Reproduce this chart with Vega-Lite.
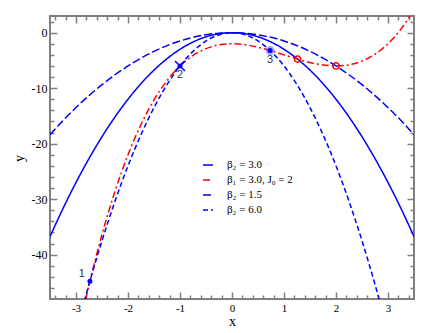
{
  "$schema": "https://vega.github.io/schema/vega-lite/v6.json",
  "width": 364,
  "height": 283,
  "autosize": "none",
  "padding": {"left": 50, "top": 16, "right": 17, "bottom": 34},
  "config": {"view": {"stroke": "#808080", "strokeWidth": 2}, "font": "Liberation Serif"},
  "datasets": {
    "curves": [
      {"s":"β₂ = 3.0","x":-3.5,"y":-36.75},{"s":"β₂ = 3.0","x":-3.25,"y":-31.69},{"s":"β₂ = 3.0","x":-3,"y":-27},{"s":"β₂ = 3.0","x":-2.75,"y":-22.69},{"s":"β₂ = 3.0","x":-2.5,"y":-18.75},{"s":"β₂ = 3.0","x":-2.25,"y":-15.19},{"s":"β₂ = 3.0","x":-2,"y":-12},{"s":"β₂ = 3.0","x":-1.75,"y":-9.19},{"s":"β₂ = 3.0","x":-1.5,"y":-6.75},{"s":"β₂ = 3.0","x":-1.25,"y":-4.69},{"s":"β₂ = 3.0","x":-1,"y":-3},{"s":"β₂ = 3.0","x":-0.75,"y":-1.69},{"s":"β₂ = 3.0","x":-0.5,"y":-0.75},{"s":"β₂ = 3.0","x":-0.25,"y":-0.19},{"s":"β₂ = 3.0","x":0,"y":0},{"s":"β₂ = 3.0","x":0.25,"y":-0.19},{"s":"β₂ = 3.0","x":0.5,"y":-0.75},{"s":"β₂ = 3.0","x":0.75,"y":-1.69},{"s":"β₂ = 3.0","x":1,"y":-3},{"s":"β₂ = 3.0","x":1.25,"y":-4.69},{"s":"β₂ = 3.0","x":1.5,"y":-6.75},{"s":"β₂ = 3.0","x":1.75,"y":-9.19},{"s":"β₂ = 3.0","x":2,"y":-12},{"s":"β₂ = 3.0","x":2.25,"y":-15.19},{"s":"β₂ = 3.0","x":2.5,"y":-18.75},{"s":"β₂ = 3.0","x":2.75,"y":-22.69},{"s":"β₂ = 3.0","x":3,"y":-27},{"s":"β₂ = 3.0","x":3.25,"y":-31.69},{"s":"β₂ = 3.0","x":3.5,"y":-36.75},
      {"s":"β₁ = 3.0, J₀ =  2","x":-3,"y":-56},{"s":"β₁ = 3.0, J₀ =  2","x":-2.75,"y":-45.48},{"s":"β₁ = 3.0, J₀ =  2","x":-2.5,"y":-36.38},{"s":"β₁ = 3.0, J₀ =  2","x":-2.25,"y":-28.58},{"s":"β₁ = 3.0, J₀ =  2","x":-2,"y":-22},{"s":"β₁ = 3.0, J₀ =  2","x":-1.75,"y":-16.55},{"s":"β₁ = 3.0, J₀ =  2","x":-1.5,"y":-12.13},{"s":"β₁ = 3.0, J₀ =  2","x":-1.25,"y":-8.64},{"s":"β₁ = 3.0, J₀ =  2","x":-1,"y":-6},{"s":"β₁ = 3.0, J₀ =  2","x":-0.75,"y":-4.11},{"s":"β₁ = 3.0, J₀ =  2","x":-0.5,"y":-2.88},{"s":"β₁ = 3.0, J₀ =  2","x":-0.25,"y":-2.2},{"s":"β₁ = 3.0, J₀ =  2","x":0,"y":-2},{"s":"β₁ = 3.0, J₀ =  2","x":0.25,"y":-2.17},{"s":"β₁ = 3.0, J₀ =  2","x":0.5,"y":-2.63},{"s":"β₁ = 3.0, J₀ =  2","x":0.75,"y":-3.27},{"s":"β₁ = 3.0, J₀ =  2","x":1,"y":-4},{"s":"β₁ = 3.0, J₀ =  2","x":1.25,"y":-4.73},{"s":"β₁ = 3.0, J₀ =  2","x":1.5,"y":-5.38},{"s":"β₁ = 3.0, J₀ =  2","x":1.75,"y":-5.83},{"s":"β₁ = 3.0, J₀ =  2","x":2,"y":-6},{"s":"β₁ = 3.0, J₀ =  2","x":2.25,"y":-5.8},{"s":"β₁ = 3.0, J₀ =  2","x":2.5,"y":-5.13},{"s":"β₁ = 3.0, J₀ =  2","x":2.75,"y":-3.89},{"s":"β₁ = 3.0, J₀ =  2","x":3,"y":-2},{"s":"β₁ = 3.0, J₀ =  2","x":3.25,"y":0.64},{"s":"β₁ = 3.0, J₀ =  2","x":3.5,"y":4.13},
      {"s":"β₂ = 1.5","x":-3.5,"y":-18.38},{"s":"β₂ = 1.5","x":-3.25,"y":-15.84},{"s":"β₂ = 1.5","x":-3,"y":-13.5},{"s":"β₂ = 1.5","x":-2.75,"y":-11.34},{"s":"β₂ = 1.5","x":-2.5,"y":-9.38},{"s":"β₂ = 1.5","x":-2.25,"y":-7.59},{"s":"β₂ = 1.5","x":-2,"y":-6},{"s":"β₂ = 1.5","x":-1.75,"y":-4.59},{"s":"β₂ = 1.5","x":-1.5,"y":-3.38},{"s":"β₂ = 1.5","x":-1.25,"y":-2.34},{"s":"β₂ = 1.5","x":-1,"y":-1.5},{"s":"β₂ = 1.5","x":-0.75,"y":-0.84},{"s":"β₂ = 1.5","x":-0.5,"y":-0.38},{"s":"β₂ = 1.5","x":-0.25,"y":-0.09},{"s":"β₂ = 1.5","x":0,"y":0},{"s":"β₂ = 1.5","x":0.25,"y":-0.09},{"s":"β₂ = 1.5","x":0.5,"y":-0.38},{"s":"β₂ = 1.5","x":0.75,"y":-0.84},{"s":"β₂ = 1.5","x":1,"y":-1.5},{"s":"β₂ = 1.5","x":1.25,"y":-2.34},{"s":"β₂ = 1.5","x":1.5,"y":-3.38},{"s":"β₂ = 1.5","x":1.75,"y":-4.59},{"s":"β₂ = 1.5","x":2,"y":-6},{"s":"β₂ = 1.5","x":2.25,"y":-7.59},{"s":"β₂ = 1.5","x":2.5,"y":-9.38},{"s":"β₂ = 1.5","x":2.75,"y":-11.34},{"s":"β₂ = 1.5","x":3,"y":-13.5},{"s":"β₂ = 1.5","x":3.25,"y":-15.84},{"s":"β₂ = 1.5","x":3.5,"y":-18.38},
      {"s":"β₂ = 6.0","x":-3,"y":-54},{"s":"β₂ = 6.0","x":-2.75,"y":-45.38},{"s":"β₂ = 6.0","x":-2.5,"y":-37.5},{"s":"β₂ = 6.0","x":-2.25,"y":-30.38},{"s":"β₂ = 6.0","x":-2,"y":-24},{"s":"β₂ = 6.0","x":-1.75,"y":-18.38},{"s":"β₂ = 6.0","x":-1.5,"y":-13.5},{"s":"β₂ = 6.0","x":-1.25,"y":-9.38},{"s":"β₂ = 6.0","x":-1,"y":-6},{"s":"β₂ = 6.0","x":-0.75,"y":-3.38},{"s":"β₂ = 6.0","x":-0.5,"y":-1.5},{"s":"β₂ = 6.0","x":-0.25,"y":-0.38},{"s":"β₂ = 6.0","x":0,"y":0},{"s":"β₂ = 6.0","x":0.25,"y":-0.38},{"s":"β₂ = 6.0","x":0.5,"y":-1.5},{"s":"β₂ = 6.0","x":0.75,"y":-3.38},{"s":"β₂ = 6.0","x":1,"y":-6},{"s":"β₂ = 6.0","x":1.25,"y":-9.38},{"s":"β₂ = 6.0","x":1.5,"y":-13.5},{"s":"β₂ = 6.0","x":1.75,"y":-18.38},{"s":"β₂ = 6.0","x":2,"y":-24},{"s":"β₂ = 6.0","x":2.25,"y":-30.38},{"s":"β₂ = 6.0","x":2.5,"y":-37.5},{"s":"β₂ = 6.0","x":2.75,"y":-45.38},{"s":"β₂ = 6.0","x":3,"y":-54}
    ],
    "marks": [
      {"k":"1","x":-2.732,"y":-44.78},
      {"k":"2","x":-1,"y":-6},
      {"k":"3","x":0.732,"y":-3.22},
      {"k":"r","x":1.26,"y":-4.76},
      {"k":"r","x":2,"y":-6}
    ]
  },
  "resolve": {"axis": {"x": "independent", "y": "independent"}},
  "layer": [
    {
      "mark": {"type": "rule", "color": "#808080", "strokeDash": [2, 2], "strokeWidth": 1},
      "encoding": {
        "x": {"datum": 0, "type": "quantitative", "scale": {"domain": [-3.5, 3.5], "nice": false, "zero": false},
          "axis": {"orient": "top", "values": [-3.4,-3.2,-3,-2.8,-2.6,-2.4,-2.2,-2,-1.8,-1.6,-1.4,-1.2,-1,-0.8,-0.6,-0.4,-0.2,0,0.2,0.4,0.6,0.8,1,1.2,1.4,1.6,1.8,2,2.2,2.4,2.6,2.8,3,3.2,3.4],
            "labels": false, "title": null, "domain": false, "grid": false,
            "tickSize": {"condition": {"test": "datum.value % 1 === 0", "value": -7}, "value": -4},
            "tickColor": "#808080", "tickWidth": 1.5}}
      }
    },
    {
      "mark": {"type": "rule", "color": "black", "strokeDash": [3, 3], "strokeWidth": 1},
      "encoding": {
        "y": {"datum": 0, "type": "quantitative", "scale": {"domain": [-48, 3], "nice": false, "zero": false},
          "axis": {"orient": "right", "values": [-46,-44,-42,-40,-38,-36,-34,-32,-30,-28,-26,-24,-22,-20,-18,-16,-14,-12,-10,-8,-6,-4,-2,0,2],
            "labels": false, "title": null, "domain": false, "grid": false,
            "tickSize": {"condition": {"test": "datum.value % 10 === 0", "value": -7}, "value": -4},
            "tickColor": "#808080", "tickWidth": 1.5}}
      }
    },
    {
      "data": {"name": "curves"},
      "mark": {"type": "line", "strokeWidth": 1.5, "clip": true, "interpolate": "monotone"},
      "encoding": {
        "x": {"field": "x", "type": "quantitative", "scale": {"domain": [-3.5, 3.5], "nice": false, "zero": false},
          "axis": {"orient": "bottom", "values": [-3.4,-3.2,-3,-2.8,-2.6,-2.4,-2.2,-2,-1.8,-1.6,-1.4,-1.2,-1,-0.8,-0.6,-0.4,-0.2,0,0.2,0.4,0.6,0.8,1,1.2,1.4,1.6,1.8,2,2.2,2.4,2.6,2.8,3,3.2,3.4],
            "labelExpr": "datum.value % 1 === 0 ? '' + datum.value : ''", "labelOverlap": false, "labelFlush": false,
            "labelFont": "Liberation Serif", "labelFontSize": 11, "labelColor": "black", "labelPadding": 10,
            "title": "x", "titleFont": "Liberation Serif", "titleFontSize": 14, "titleFontWeight": "normal", "titleColor": "black",
            "titleY": 26, "titleBaseline": "alphabetic",
            "domain": false, "grid": false,
            "tickSize": {"condition": {"test": "datum.value % 1 === 0", "value": -7}, "value": -4},
            "tickColor": "#808080", "tickWidth": 1.5}},
        "y": {"field": "y", "type": "quantitative", "scale": {"domain": [-48, 3], "nice": false, "zero": false},
          "axis": {"orient": "left", "values": [-46,-44,-42,-40,-38,-36,-34,-32,-30,-28,-26,-24,-22,-20,-18,-16,-14,-12,-10,-8,-6,-4,-2,0,2],
            "labelExpr": "datum.value % 10 === 0 ? '' + datum.value : ''", "labelOverlap": false, "labelFlush": false,
            "labelFont": "Liberation Serif", "labelFontSize": 12, "labelColor": "black", "labelPadding": 10,
            "title": "y", "titleFont": "Liberation Serif", "titleFontSize": 14, "titleFontWeight": "normal", "titleColor": "black",
            "titleX": -27, "titleY": 142, "titleBaseline": "alphabetic", "titleAngle": -90,
            "domain": false, "grid": false,
            "tickSize": {"condition": {"test": "datum.value % 10 === 0", "value": -7}, "value": -4},
            "tickColor": "#808080", "tickWidth": 1.5}},
        "color": {"field": "s", "type": "nominal",
          "scale": {"domain": ["β₂ = 3.0", "β₁ = 3.0, J₀ =  2", "β₂ = 1.5", "β₂ = 6.0"], "range": ["#0000ff", "#ff0000", "#0000ff", "#0000ff"]},
          "legend": {"orient": "none", "legendX": 152, "legendY": 143, "title": null, "symbolType": "stroke", "symbolSize": 100, "symbolStrokeWidth": 1.5,
            "labelFont": "Liberation Serif", "labelFontSize": 11, "labelColor": "black", "labelOffset": 13, "rowPadding": 4}},
        "strokeDash": {"field": "s", "type": "nominal",
          "scale": {"domain": ["β₂ = 3.0", "β₁ = 3.0, J₀ =  2", "β₂ = 1.5", "β₂ = 6.0"], "range": [[1, 0], [7, 3, 2, 3], [8, 3], [5, 3]]},
          "legend": {"orient": "none", "legendX": 152, "legendY": 143, "title": null, "symbolType": "stroke", "symbolSize": 100, "symbolStrokeWidth": 1.5,
            "labelFont": "Liberation Serif", "labelFontSize": 11, "labelColor": "black", "labelOffset": 13, "rowPadding": 4}}
      }
    },
    {
      "data": {"name": "marks"},
      "transform": [{"filter": "datum.k === '3'"}],
      "mark": {"type": "point", "filled": true, "size": 80, "color": "#6f6fff", "opacity": 0.6},
      "encoding": {
        "x": {"field": "x", "type": "quantitative", "scale": {"domain": [-3.5, 3.5], "nice": false, "zero": false}, "axis": null},
        "y": {"field": "y", "type": "quantitative", "scale": {"domain": [-48, 3], "nice": false, "zero": false}, "axis": null}
      }
    },
    {
      "data": {"name": "marks"},
      "transform": [{"filter": "datum.k === '2'"}],
      "mark": {"type": "point", "shape": "M-1,-1L1,1M-1,1L1,-1", "filled": false, "size": 100, "color": "#0000ff", "strokeWidth": 1.5, "opacity": 1},
      "encoding": {
        "x": {"field": "x", "type": "quantitative", "scale": {"domain": [-3.5, 3.5], "nice": false, "zero": false}, "axis": null},
        "y": {"field": "y", "type": "quantitative", "scale": {"domain": [-48, 3], "nice": false, "zero": false}, "axis": null}
      }
    },
    {
      "data": {"name": "marks"},
      "transform": [{"filter": "datum.k !== 'r'"}],
      "mark": {"type": "point", "filled": true, "size": 25, "color": "#0000ff", "opacity": 1},
      "encoding": {
        "x": {"field": "x", "type": "quantitative", "scale": {"domain": [-3.5, 3.5], "nice": false, "zero": false}, "axis": null},
        "y": {"field": "y", "type": "quantitative", "scale": {"domain": [-48, 3], "nice": false, "zero": false}, "axis": null}
      }
    },
    {
      "data": {"name": "marks"},
      "transform": [{"filter": "datum.k === 'r'"}],
      "mark": {"type": "point", "filled": false, "size": 40, "color": "#ff0000", "strokeWidth": 1.5, "opacity": 1},
      "encoding": {
        "x": {"field": "x", "type": "quantitative", "scale": {"domain": [-3.5, 3.5], "nice": false, "zero": false}, "axis": null},
        "y": {"field": "y", "type": "quantitative", "scale": {"domain": [-48, 3], "nice": false, "zero": false}, "axis": null}
      }
    },
    {
      "data": {"name": "marks"},
      "transform": [{"filter": "datum.k === '2' || datum.k === '3'"}],
      "mark": {"type": "text", "font": "Liberation Sans", "fontSize": 11, "color": "#333333", "dy": 9, "baseline": "middle"},
      "encoding": {
        "x": {"field": "x", "type": "quantitative", "scale": {"domain": [-3.5, 3.5], "nice": false, "zero": false}, "axis": null},
        "y": {"field": "y", "type": "quantitative", "scale": {"domain": [-48, 3], "nice": false, "zero": false}, "axis": null},
        "text": {"field": "k"}
      }
    },
    {
      "data": {"name": "marks"},
      "transform": [{"filter": "datum.k === '1'"}],
      "mark": {"type": "text", "font": "Liberation Sans", "fontSize": 11, "color": "#333333", "dx": -8, "dy": -7, "baseline": "middle"},
      "encoding": {
        "x": {"field": "x", "type": "quantitative", "scale": {"domain": [-3.5, 3.5], "nice": false, "zero": false}, "axis": null},
        "y": {"field": "y", "type": "quantitative", "scale": {"domain": [-48, 3], "nice": false, "zero": false}, "axis": null},
        "text": {"field": "k"}
      }
    }
  ]
}
